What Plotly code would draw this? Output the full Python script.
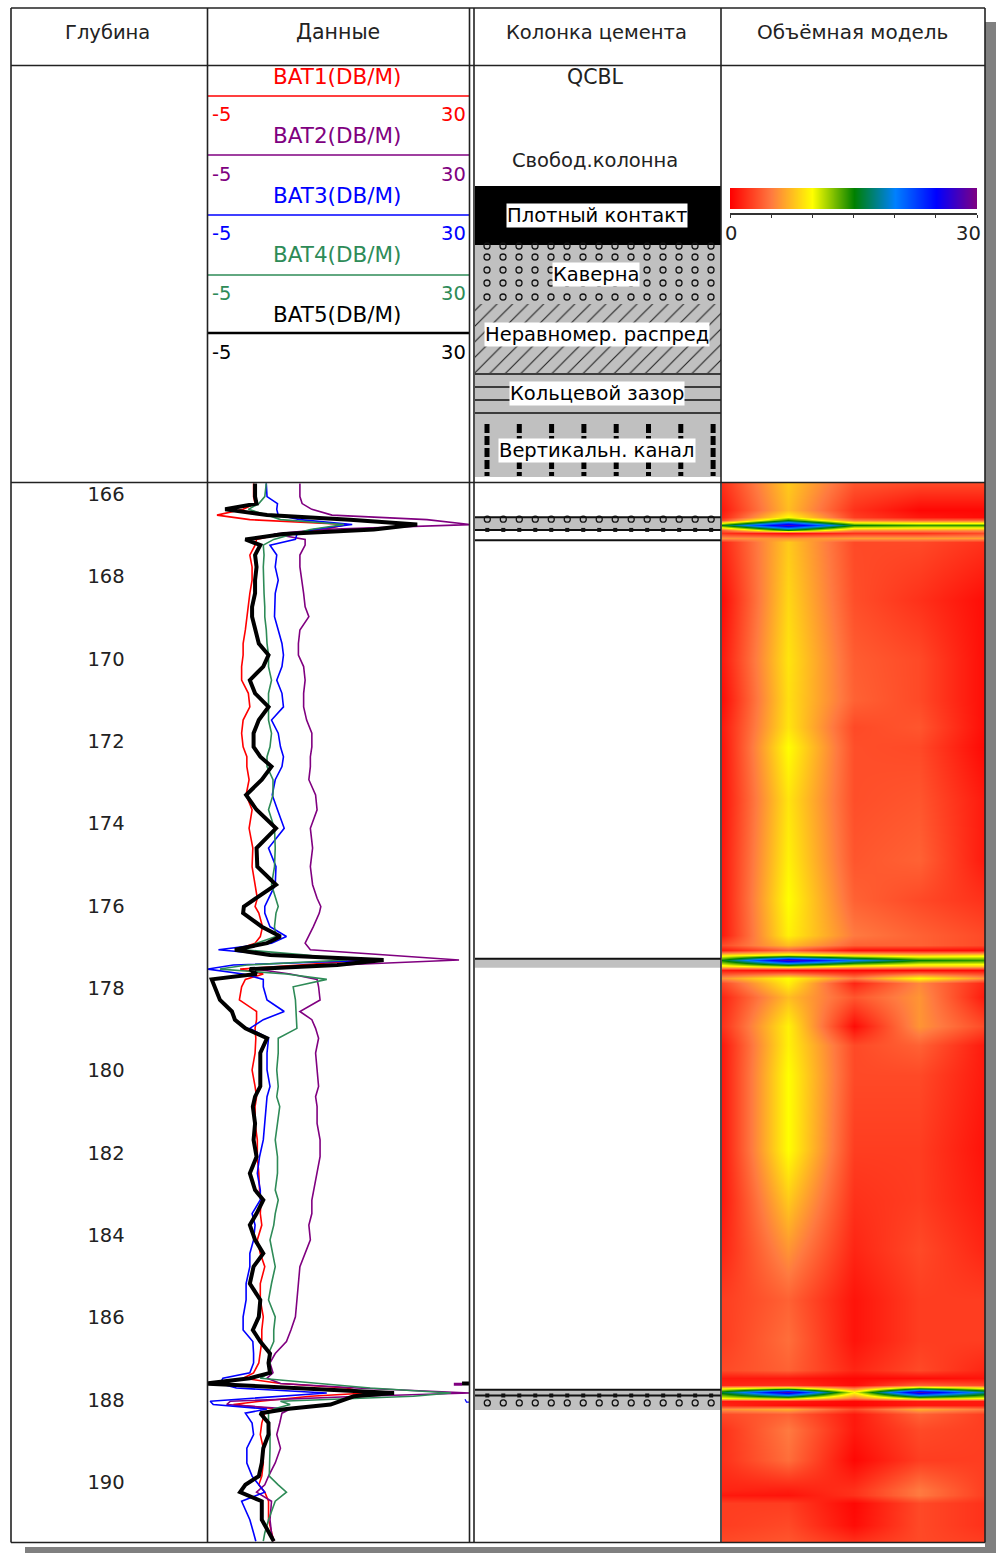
import numpy as np
import plotly.graph_objects as go

W, H = 996, 1553

# depth of the readings, m (same grid for the five curves)
depth = [165.74, 166.06, 166.23, 166.37, 166.51, 166.62, 166.74, 166.86, 166.97, 167.10, 167.24, 167.48, 167.77, 168.09, 168.41, 168.74, 168.98, 169.30, 169.63, 169.91, 170.19, 170.52, 170.84, 171.17, 171.49, 171.81, 172.14, 172.38, 172.62,
         172.94, 173.31, 173.67, 174.12, 174.60, 175.05, 175.49, 175.82, 176.02,
         176.18, 176.51, 176.75, 176.91, 177.07, 177.20, 177.32, 177.44, 177.54, 177.66, 177.79, 177.97, 178.29, 178.57, 178.77, 178.98, 179.22, 179.58, 179.99, 180.39, 180.64,
         180.88, 181.29, 181.69, 182.10, 182.50, 182.91, 183.15, 183.48, 183.76, 184.12, 184.45, 184.77, 185.18, 185.58, 185.99, 186.31, 186.59, 186.88,
         187.11, 187.35, 187.48, 187.61, 187.72, 187.84, 187.92, 188.04, 188.12, 188.23, 188.33, 188.57, 188.85, 189.18, 189.54, 189.86, 190.07, 190.25, 190.47, 190.92, 191.24, 191.44]

bat1 = [1.1, 1.1, 1.3, -0.3, -3.8, 0.6, 13.6, 10.5, 4.7, 1.5, 1.3, 0.6, 0.9, 0.9, 0.6, 0.4, 0.2, 0, -0.3, -0.3, -0.5, -0.5, 0.4, 0.6, -0.3, -0.5, -0.3, 0.2, 0.2,
        0.5, 0.1, 0.9, 0.5, 1.0, 0.9, 1.3, 1.6, 1.3,
        1.8, 2.3, 2.0, 1.3, -1.2, 3.3, 16.3, 7.3, -0.7, 2.4, 0, -0.5, -0.8, 1.5, 1.5, 1.3, 1.4, 1.3, 0.9, 1.3, 1.5,
        1.3, 1.3, 1.6, 1.6, 1.8, 1.9, 2.1, 2.0, 2.2, 1.6, 2.0, 2.6, 2.0, 2.0, 2.4, 2.2, 2.2, 2.0,
        1.8, 1.1, -0.3, 4.7, 13.6, 16.3, 8.7, 2.0, -1.6, 4.2, 2.6, 2.2, 2.0, 2.4, 2.4, 2.2, 1.8, 2.6, 3.1, 3.1, 3.5, 3.8]

bat2 = [7.3, 7.3, 7.6, 8.9, 11.6, 24.3, 30.1, 10.0, 3.8, 8.0, 8.0, 7.3, 7.3, 7.6, 7.8, 8.0, 8.5, 7.3, 7.1, 7.1, 7.8, 8.0, 7.8, 7.8, 8.2, 8.9, 8.9, 8.7, 8.7,
        8.5, 9.4, 9.6, 8.7, 9.0, 8.7, 9.0, 9.6, 10.1,
        9.9, 9.1, 8.5, 8.0, 8.7, 18.5, 28.6, 12.7, 1.3, 6.0, 9.6, 9.8, 10.0, 7.3, 8.9, 9.4, 9.8, 9.4, 9.6, 9.8, 9.4,
        9.6, 9.6, 10.0, 10.0, 9.6, 9.1, 8.9, 8.9, 8.5, 8.7, 8.0, 7.3, 7.1, 6.9, 6.7, 6.1, 5.5, 4.0,
        3.3, 3.7, 2.9, 4.7, 14.9, 30.1, 15.4, -2.0, -2.5, 6.0, 4.9, 4.6, 4.2, 4.7, 4.0, 3.1, 2.6, 1.5, 3.5, 3.3, 3.5, 3.8]

bat3 = [2.8, 2.9, 4.3, 4.2, 4.4, 7.3, 14.3, 9.1, 6.9, 6.7, 3.3, 4.2, 4.0, 4.4, 4.0, 3.9, 3.9, 4.4, 4.9, 5.1, 4.9, 4.2, 4.9, 5.1, 3.5, 4.4, 4.7, 5.1, 4.9,
        4.0, 3.6, 4.3, 5.2, 3.1, 4.1, 4.0, 3.1, 2.6,
        2.6, 3.3, 5.5, 3.5, -3.6, 4.0, 18.3, -1.6, -5.0, -0.3, 2.4, 2.4, 2.9, 5.2, 2.4, 0.6, 3.1, 2.9, 2.9, 3.3, 2.9,
        2.8, 2.6, 2.4, 1.9, 1.6, 2.0, 2.0, 0.9, 1.3, 1.1, 0.6, 0.6, 0.1, 0.1, -0.3, -0.3, 1.0, 1.1,
        1.1, 0.6, -3.0, -3.4, -1.2, 10.9, 5.1, -4.7, -4.3, 2.9, 0, 0.9, 1.1, 0.2, 0.2, 0.9, 1.8, 2.6, -0.5, 0.6, 1.1, 1.4]

bat4 = [2.8, 2.6, 1.8, 0.4, 2.9, 4.7, 13.2, 8.7, 6.4, 3.8, 2.4, 2.5, 2.4, 2.4, 2.5, 2.6, 2.6, 2.8, 2.9, 3.1, 3.1, 3.5, 3.1, 3.1, 3.1, 3.5, 3.3, 2.9, 2.9,
        3.7, 3.7, 3.1, 3.9, 4.0, 3.9, 3.5, 4.0, 4.4,
        4.1, 3.9, 4.1, 1.5, -0.3, 8.2, 13.6, 0.2, -3.4, 5.5, 10.9, 6.4, 6.7, 6.8, 6.9, 6.9, 4.4, 4.4, 4.2, 4.4, 4.2,
        4.6, 4.3, 4.0, 4.3, 4.3, 4.0, 4.4, 4.0, 3.8, 3.3, 3.7, 4.0, 3.5, 3.1, 4.0, 3.8, 3.8, 3.1,
        3.3, 3.3, 2.0, 10.5, 16.7, 27.5, 22.5, 4.7, 6.0, 3.8, 3.1, 3.1, 3.3, 3.3, 3.3, 3.2, 4.4, 5.5, 4.0, 3.1, 2.6, 2.4]

bat5 = [1.3, 1.3, 1.5, -2.7, 2.9, 14.0, 23.0, 17.2, 5.1, 0, 2.0, 1.3, 1.5, 1.3, 1.3, 0.9, 0.9, 1.3, 1.8, 3.1, 2.4, 0.6, 1.3, 3.1, 1.8, 1.1, 1.1, 2.0, 3.5,
        2.2, 0.1, 1.5, 4.1, 1.5, 1.6, 4.1, 1.5, -0.2,
        -0.3, 2.2, 4.7, 2.9, -1.4, 3.3, 18.5, 12.3, 0.6, 1.5, -4.5, -4.1, -3.4, -1.8, -1.4, 0, 2.9, 2.0, 2.0, 2.0, 1.3,
        1.0, 1.3, 1.1, 1.5, 0.6, 1.3, 2.4, 1.5, 0.6, 1.3, 2.4, 1.1, 0.6, 2.0, 1.8, 1.0, 2.0, 3.3,
        3.1, 3.3, 0.6, -5.4, 6.4, 19.9, 14.5, 12.7, 11.4, 5.5, 2.0, 3.1, 3.1, 2.4, 2.2, 1.8, 0, -0.7, 2.2, 2.2, 3.1, 3.8]

# readings that wrapped round to the right edge near 187.6 m
wrap_depth = [187.61, 187.61]
wrap_bat5 = [29.0, 30.5]
wrap_bat2_depth = [187.63, 187.63]
wrap_bat2 = [27.9, 29.0]
wrap_bat3_depth = [187.99, 188.06, 188.06]
wrap_bat3 = [29.4, 29.6, 30.5]

depth_ticks = [166, 168, 170, 172, 174, 176, 178, 180, 182, 184, 186, 188, 190]

# volumetric model: five sectors, depth rows
sectors = [1, 2, 3, 4, 5]
model_depth = [165.73, 166.39, 166.56, 166.63, 166.75, 166.87, 166.95, 167.07, 167.17, 168.57, 170.03, 171.00, 171.66, 172.15, 173.43, 174.89, 175.86, 176.71, 176.95, 177.08, 177.20, 177.32, 177.46, 177.56, 177.76, 177.88, 178.22, 178.92, 179.38, 180.11, 181.93, 183.15, 184.36, 185.58, 186.55, 187.28, 187.47, 187.64, 187.71, 187.82, 187.96, 188.03, 188.13, 188.23, 188.35, 188.74, 189.46, 190.19, 190.31, 190.51, 191.04, 191.46]
model_s1 = [2, 1, 1.5, 3, 15, 4, 2, 6, 1.5, 0.5, 1, 0.5, 1, 0.8, 0.8, 1, 1, 1, 3, 1, 9, 15, 9, 1, 6, 3, 1.5, 2, 1, 1, 1, 1, 1.5, 2.5, 2.5, 3, 1, 1.5, 9, 16, 10, 1, 1.5, 6, 3, 2, 2, 1.5, 1, 2.5, 2.5, 3]
model_s2 = [8, 7.5, 10, 15, 28, 15, 0.5, 6, 8, 8.5, 9, 8.8, 9, 10, 9, 9.5, 10, 9.5, 7.5, 4, 11, 28, 12, 0.5, 10, 9.5, 7.5, 9.5, 9.5, 10, 10, 8, 6, 4, 4.5, 4, 1, 2, 12, 28, 12, 1, 0.5, 7, 4, 5, 4.5, 1.2, 0.8, 2.5, 3, 3.5]
model_s3 = [3.5, 2, 2.5, 5, 15, 6, 2, 6.5, 3, 3.2, 3.8, 4, 3, 3.2, 3.2, 3.5, 4, 5, 4, 0.5, 9, 20, 9, 0.3, 5, 1.5, 3.5, 0.5, 3, 3, 2.5, 2, 1.5, 0.8, 0.8, 1.5, 0.3, 0.5, 5, 10, 5, 0.3, 0.3, 3, 1, 1, 0.3, 2, 2, 0.3, 0.5, 2]
model_s4 = [3, 0.3, 1, 4, 14, 6, 2, 6.5, 3, 2, 3, 3, 3.5, 3, 3.5, 4, 3, 4, 4, 0.5, 8, 15, 8, 0.3, 10, 5.5, 6, 6, 4, 3, 2.5, 2.5, 3, 2.5, 2.5, 3, 0.5, 4, 14, 28, 12, 1, 1, 7, 4, 3, 2.5, 5, 5, 3, 3, 3]
model_s5 = [3, 0.3, 0.5, 4, 14, 6, 3, 6.5, 2, 0.5, 0.5, 0.5, 0.5, 0.3, 1, 1, 2, 3, 3, 0.5, 9, 14, 8, 0.5, 6, 1.5, 1, 3, 1, 1, 0.7, 1, 1.5, 2.5, 2.5, 1.5, 0.8, 3, 10, 18, 10, 1, 1, 5, 2.5, 2.5, 2.5, 2.5, 2.5, 2, 2, 2.5]

scale_values = [0, 5, 10, 15, 20, 25, 30]
model_colors = [[0, '#ff0000'], [1 / 6, '#ff7a40'], [1 / 3, '#ffff00'], [0.5, '#008000'],
                [2 / 3, '#0080ff'], [5 / 6, '#0000ff'], [1, '#800080']]

# cement column intervals
gray_top = [166.56, 177.29, 187.76]
gray_bottom = [166.87, 177.51, 188.25]
cement_lines = [166.56, 166.87, 167.12, 177.29, 187.76, 187.90]
dots_depth = [166.61, 188.08]
squares_depth = [166.87, 187.90]

curve_colors = {'BAT1': '#ff0000', 'BAT2': '#800080', 'BAT3': '#0000ff', 'BAT4': '#2e8b57', 'BAT5': '#000000'}
curve_names = ['BAT1', 'BAT2', 'BAT3', 'BAT4', 'BAT5']
curve_label_y = [77, 136, 196, 255, 315]
curve_scale_y = [115, 175, 234, 294, 353]
curve_rule_y = [96, 155, 215, 275, 333]

FONT = 'DejaVu Sans'
INK = '#222222'
GRAY = '#c0c0c0'


def px(x):
    return x / W


def py(y):
    return 1 - y / H


def text(x, y, s, color=INK, anchor='center', bg=None, size=19.5):
    return dict(xref='paper', yref='paper', x=px(x), y=py(y), text=s, showarrow=False,
                xanchor=anchor, yanchor='middle', font=dict(family=FONT, size=size, color=color),
                bgcolor=bg, borderpad=0)


def rect(x0, y0, x1, y1, color, layer='below'):
    return dict(type='rect', xref='paper', yref='paper', x0=px(x0), x1=px(x1), y0=py(y0), y1=py(y1),
                fillcolor=color, line=dict(width=0), layer=layer)


def line(x0, y0, x1, y1, color='#222222', width=1.6):
    return dict(type='line', xref='paper', yref='paper', x0=px(x0), x1=px(x1), y0=py(y0), y1=py(y1),
                line=dict(color=color, width=width), layer='above')


fig = go.Figure()

# depth labels
fig.add_trace(go.Scatter(x=[0.5] * len(depth_ticks), y=depth_ticks, text=[str(d) for d in depth_ticks],
                         mode='text', textposition='middle center',
                         textfont=dict(family=FONT, size=19.5, color=INK), xaxis='x2', yaxis='y2'))

# curves
for name, values in zip(curve_names, [bat1, bat2, bat3, bat4, bat5]):
    fig.add_trace(go.Scatter(x=values, y=depth, mode='lines', name=name,
                             line=dict(color=curve_colors[name], width=4 if name == 'BAT5' else 1.6),
                             xaxis='x', yaxis='y'))
fig.add_trace(go.Scatter(x=wrap_bat2, y=wrap_bat2_depth, mode='lines', line=dict(color=curve_colors['BAT2'], width=3), xaxis='x', yaxis='y'))
fig.add_trace(go.Scatter(x=wrap_bat3, y=wrap_bat3_depth, mode='lines', line=dict(color=curve_colors['BAT3'], width=1.3), xaxis='x', yaxis='y'))
fig.add_trace(go.Scatter(x=wrap_bat5, y=wrap_depth, mode='lines', line=dict(color=curve_colors['BAT5'], width=4), xaxis='x', yaxis='y'))

# cement column
mids = [(a + b) / 2 for a, b in zip(gray_top, gray_bottom)]
thick = [b - a for a, b in zip(gray_top, gray_bottom)]
fig.add_trace(go.Bar(y=mids, x=[1] * len(mids), width=thick, orientation='h', base=0,
                     marker=dict(color=GRAY, line=dict(width=0)), xaxis='x3', yaxis='y3'))
for d in cement_lines:
    fig.add_trace(go.Scatter(x=[0, 1], y=[d, d], mode='lines', line=dict(color='#111111', width=2),
                             xaxis='x3', yaxis='y3'))
grid_x = np.arange(0.05, 1, 0.065)
for d in dots_depth:
    fig.add_trace(go.Scatter(x=grid_x, y=[d] * len(grid_x), mode='markers',
                             marker=dict(symbol='circle-open', size=6, color='#111111', line=dict(width=1.3)),
                             xaxis='x3', yaxis='y3'))
for d in squares_depth:
    fig.add_trace(go.Scatter(x=grid_x, y=[d] * len(grid_x), mode='markers',
                             marker=dict(symbol='square', size=4, color='#111111'),
                             xaxis='x3', yaxis='y3'))

# volumetric model
model_z = np.array([model_s1, model_s2, model_s3, model_s4, model_s5]).T
fig.add_trace(go.Heatmap(x=sectors, y=model_depth, z=model_z, zmin=0, zmax=30, zsmooth='best',
                         colorscale=model_colors, showscale=False, hoverinfo='skip', xaxis='x4', yaxis='y4'))

# colour scale of the model
fig.add_trace(go.Heatmap(x=scale_values, y=[0, 1], z=[scale_values, scale_values], zmin=0, zmax=30, zsmooth='best',
                         colorscale=model_colors, showscale=False, hoverinfo='skip', xaxis='x5', yaxis='y5'))

# cement legend swatches
dot_x = np.arange(487, 721, 16)
for row in [246, 257, 270, 283, 297]:
    fig.add_trace(go.Scatter(x=dot_x, y=[row] * len(dot_x), mode='markers',
                             marker=dict(symbol='circle-open', size=6, color='#111111', line=dict(width=1.3)),
                             xaxis='x6', yaxis='y6'))
fig.add_trace(go.Bar(y=[338.5], x=[246], width=[69], base=475, orientation='h',
                     marker=dict(color=GRAY, line=dict(width=0),
                                 pattern=dict(shape='/', fgcolor='#222222', bgcolor=GRAY, size=11, solidity=0.1, fillmode='replace')),
                     xaxis='x6', yaxis='y6'))
dash_x = []
dash_y = []
for x in np.arange(487, 721, 32.3):
    dash_x += [x, x, None]
    dash_y += [424, 476, None]
fig.add_trace(go.Scatter(x=dash_x, y=dash_y, mode='lines', line=dict(color='#000000', width=5, dash='9px,3px'),
                         xaxis='x6', yaxis='y6'))

# frame, header rules, shadow
shapes = [
    rect(985, 22, 996, 1553, '#808080'),
    rect(25, 1547, 996, 1553, '#808080'),
    rect(475, 186, 721, 245, '#000000'),
    rect(475, 245, 721, 304, GRAY),
    rect(475, 373, 721, 414, GRAY),
    rect(475, 414, 721, 477, GRAY),
]
for y in [374, 387, 400, 413]:
    shapes.append(line(475, y, 721, y, '#111111', 1.3))
for y, name in zip(curve_rule_y, curve_names):
    shapes.append(line(208, y, 470, y, curve_colors[name], 2.5 if name == 'BAT5' else 1.5))
for x in [11, 207.5, 469.5, 474, 721, 985]:
    shapes.append(line(x, 8, x, 1542.5))
for y in [8, 65.5, 482.5, 1542.5]:
    shapes.append(line(11, y, 985, y))

annotations = [text(107, 32, 'Глубина'), text(338, 32, 'Данные', size=20.5), text(596, 32, 'Колонка цемента'), text(852, 32, 'Объёмная модель', size=20)]
for name, y0, y1 in zip(curve_names, curve_label_y, curve_scale_y):
    c = curve_colors[name]
    annotations.append(text(337, y0, name + '(DB/M)', c, size=21.5))
    annotations.append(text(211, y1, '-5', c, 'left'))
    annotations.append(text(467, y1, '30', c, 'right'))
annotations += [
    text(595, 77, 'QCBL', size=20.5),
    text(595, 160, 'Свобод.колонна'),
    text(597, 216, 'Плотный контакт', '#000000', bg='#ffffff'),
    text(596, 275, 'Каверна', '#000000', bg='#ffffff'),
    text(597, 335, 'Неравномер. распред', '#000000', bg='#ffffff'),
    text(597, 394, 'Кольцевой зазор', '#000000', bg='#ffffff'),
    text(597, 450, 'Вертикальн. канал', '#000000', bg='#ffffff'),
    text(731, 234, '0'),
    text(982, 234, '30', anchor='right'),
]

hidden = dict(visible=False, showgrid=False, zeroline=False)
log_y = [py(1542), py(483)]
depth_range = [191.46, 165.73]
# the label track sits 2 px lower so the digits centre on their depth
label_range = [191.41, 165.68]

fig.update_layout(
    width=W, height=H, margin=dict(l=0, r=0, t=0, b=0), autosize=False,
    paper_bgcolor='#ffffff', plot_bgcolor='rgba(0,0,0,0)', showlegend=False, barmode='overlay',
    font=dict(family=FONT),
    xaxis=dict(domain=[px(208), px(469.5)], range=[-5, 30], anchor='y', **hidden),
    yaxis=dict(domain=log_y, range=depth_range, anchor='x', **hidden),
    xaxis2=dict(domain=[px(12), px(200)], range=[0, 1], anchor='y2', **hidden),
    yaxis2=dict(domain=log_y, range=label_range, anchor='x2', **hidden),
    xaxis3=dict(domain=[px(475), px(721)], range=[0, 1], anchor='y3', **hidden),
    yaxis3=dict(domain=log_y, matches='y', anchor='x3', **hidden),
    xaxis4=dict(domain=[px(722), px(985)], range=[1, 5], anchor='y4', **hidden),
    yaxis4=dict(domain=log_y, matches='y', anchor='x4', **hidden),
    xaxis5=dict(domain=[px(730), px(977)], range=[0, 30], anchor='free', position=py(214), showgrid=False, zeroline=False,
                showline=True, linecolor='#333333', linewidth=1.5, ticks='outside', ticklen=3, tickcolor='#333333',
                tickvals=scale_values, showticklabels=False),
    yaxis5=dict(domain=[py(209), py(188)], range=[0, 1], anchor='x5', **hidden),
    xaxis6=dict(domain=[px(475), px(721)], range=[475, 721], anchor='y6', **hidden),
    yaxis6=dict(domain=[py(477), py(186)], range=[477, 186], anchor='x6', **hidden),
    shapes=shapes,
    annotations=annotations,
)

fig.write_html("out.html", config={'displayModeBar': False},
               post_script="document.body.style.margin='0';")
